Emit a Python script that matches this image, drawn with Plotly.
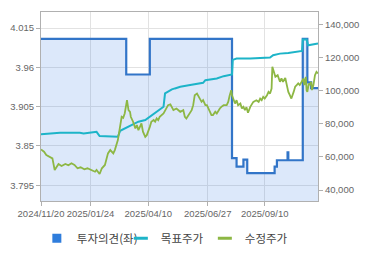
import plotly.graph_objects as go

# ---- data ----
opinion_dates = ["2024-11-20", "2025-03-12", "2025-04-12", "2025-07-29", "2025-08-04", "2025-08-13",
                 "2025-08-18", "2025-09-23", "2025-09-26", "2025-10-10", "2025-10-11", "2025-10-30",
                 "2025-11-05", "2025-11-10", "2025-11-19"]
opinion_vals = [4.0, 3.95, 4.0, 3.833, 3.821, 3.831, 3.812, 3.821, 3.830, 3.841, 3.830, 4.0,
                3.939, 3.931, 3.931]

target_dates = ["2024-11-20", "2024-12-02", "2024-12-15", "2025-01-10", "2025-01-15", "2025-01-30",
                "2025-02-01", "2025-02-05", "2025-02-19", "2025-03-01", "2025-03-04", "2025-03-10",
                "2025-03-19", "2025-03-28", "2025-04-06", "2025-04-12", "2025-04-21", "2025-04-30",
                "2025-05-02", "2025-05-06", "2025-05-11", "2025-05-15", "2025-05-22", "2025-06-04",
                "2025-06-21", "2025-06-24", "2025-07-09", "2025-07-18", "2025-07-29", "2025-07-30",
                "2025-08-04", "2025-08-22", "2025-09-17", "2025-09-21", "2025-09-30", "2025-10-11",
                "2025-10-20", "2025-10-29", "2025-10-30", "2025-11-04", "2025-11-06", "2025-11-15",
                "2025-11-19"]
target_vals = [73600, 74000, 74500, 74500, 74100, 75000, 75100, 72530, 72100, 72100, 75700, 77200,
               79200, 81200, 82200, 84200, 87200, 90200, 98250, 99500, 100700, 101300, 102270, 103300,
               104700, 106300, 107300, 108700, 109700, 118500, 119300, 119300, 119900, 121300, 122300,
               122700, 123300, 123900, 130800, 130800, 127350, 128000, 128400]

price_dates = [
    "2024-11-20", "2024-11-24", "2024-11-27", "2024-12-02", "2024-12-05", "2024-12-08", "2024-12-11",
    "2024-12-13", "2024-12-17", "2024-12-22", "2024-12-26", "2024-12-30",
    "2025-01-03", "2025-01-07", "2025-01-11", "2025-01-16", "2025-01-20", "2025-01-25", "2025-01-30",
    "2025-02-01", "2025-02-05", "2025-02-08", "2025-02-12", "2025-02-16", "2025-02-19", "2025-02-23",
    "2025-02-25",
    "2025-03-01", "2025-03-04", "2025-03-06", "2025-03-08", "2025-03-10", "2025-03-13", "2025-03-15",
    "2025-03-17", "2025-03-18", "2025-03-21", "2025-03-24", "2025-03-26", "2025-03-28", "2025-03-30",
    "2025-04-01", "2025-04-03", "2025-04-06", "2025-04-08", "2025-04-10", "2025-04-12", "2025-04-14",
    "2025-04-17", "2025-04-19", "2025-04-21", "2025-04-23", "2025-04-25", "2025-04-30",
    "2025-05-02", "2025-05-04", "2025-05-06", "2025-05-09", "2025-05-11", "2025-05-13", "2025-05-17",
    "2025-05-22", "2025-05-26", "2025-05-28", "2025-05-30",
    "2025-06-02", "2025-06-04", "2025-06-06", "2025-06-08", "2025-06-10", "2025-06-13", "2025-06-15",
    "2025-06-17", "2025-06-19", "2025-06-21", "2025-06-24", "2025-06-26", "2025-06-28", "2025-06-30",
    "2025-07-02", "2025-07-04", "2025-07-07", "2025-07-09", "2025-07-11", "2025-07-13", "2025-07-15",
    "2025-07-18", "2025-07-22", "2025-07-24", "2025-07-26", "2025-07-28", "2025-07-29", "2025-07-31",
    "2025-08-02", "2025-08-04", "2025-08-06", "2025-08-09", "2025-08-11", "2025-08-13", "2025-08-15",
    "2025-08-17", "2025-08-19", "2025-08-22", "2025-08-24", "2025-08-26", "2025-08-30",
    "2025-09-02", "2025-09-04", "2025-09-06", "2025-09-08", "2025-09-10", "2025-09-13", "2025-09-15",
    "2025-09-17", "2025-09-19", "2025-09-20", "2025-09-22", "2025-09-24", "2025-09-27", "2025-09-30",
    "2025-10-02", "2025-10-04", "2025-10-07", "2025-10-09", "2025-10-11", "2025-10-13", "2025-10-15",
    "2025-10-18", "2025-10-20", "2025-10-22", "2025-10-24", "2025-10-26", "2025-10-29", "2025-10-31",
    "2025-11-01", "2025-11-03", "2025-11-04", "2025-11-05", "2025-11-07", "2025-11-08", "2025-11-10",
    "2025-11-11", "2025-11-13", "2025-11-15", "2025-11-17", "2025-11-19"]
price_vals = [
    64500, 63100, 61100, 60100, 59100, 52050, 54000, 55700, 54500, 55700, 54900, 56100,
    55100, 53100, 53700, 52500, 53100, 52000, 51000, 52050, 49640, 53100, 55100, 62100, 64100, 62100,
    64100,
    70100, 78100, 84200, 83600, 86200, 94200, 88200, 87200, 84200, 81200, 77200, 79200, 76100, 78100,
    80200, 75200, 72100, 73100, 75200, 78100, 81200, 82200, 81200, 83200, 82200, 84200, 86200,
    88200, 90200, 91200, 91700, 90200, 88200, 89200, 87200, 88200, 84200, 83200,
    85200, 87200, 88200, 91200, 97200, 98250, 96200, 95200, 93200, 94200, 91200, 91200, 89200, 88200,
    85200, 85200, 87200, 86200, 88200, 89200, 90200, 91200, 91200, 93200, 97200, 100200, 97200, 94000,
    92200, 94200, 91200, 92200, 89200, 90200, 88200, 90000, 86600, 90200, 92200, 93200, 94200,
    93200, 95200, 94200, 96200, 95200, 97200, 99200, 98200, 101200, 114300, 111300, 108300, 109300,
    105300,
    107300, 105300, 107600, 103300, 99200, 97200, 95200, 99200, 102300, 103300, 104300, 103300, 105300,
    107300,
    103300, 108300, 100200, 99200, 104300, 103300, 105300, 100300, 103300, 109300, 111300, 110300]

x_tick_vals = ["2024-11-20", "2025-01-24", "2025-04-10", "2025-06-27", "2025-09-10"]
x_tick_text = ["2024/11/20", "2025/01/24", "2025/04/10", "2025/06/27", "2025/09/10"]
left_ticks = [3.795, 3.85, 3.905, 3.96, 4.015]
left_tick_text = ["3.795", "3.85", "3.905", "3.96", "4.015"]
right_ticks = [40000, 60000, 80000, 100000, 120000, 140000]
legend_names = ["투자의견(좌)", "목표주가", "수정주가"]

BLUE = "#3275c8"
TEAL = "#1db4c8"
GREEN = "#8db744"

fig = go.Figure()
fig.add_trace(go.Scatter(x=opinion_dates, y=opinion_vals, mode="lines", line_shape="hv",
                         line=dict(color=BLUE, width=2.2), fill="tozeroy",
                         fillcolor="rgba(60,130,230,0.18)", showlegend=False, yaxis="y"))
fig.add_trace(go.Scatter(x=target_dates, y=target_vals, mode="lines",
                         line=dict(color=TEAL, width=2), showlegend=False, yaxis="y2"))
fig.add_trace(go.Scatter(x=price_dates, y=price_vals, mode="lines",
                         line=dict(color=GREEN, width=1.8), showlegend=False, yaxis="y2"))

# legend entries
fig.add_trace(go.Scatter(x=[None], y=[None], mode="markers", name=legend_names[0],
                         marker=dict(symbol="square", size=9, color="#2f7ddc")))
fig.add_trace(go.Scatter(x=[None], y=[None], mode="markers", name=legend_names[1],
                         marker=dict(symbol="line-ew", size=10, line=dict(color=TEAL, width=3))))
fig.add_trace(go.Scatter(x=[None], y=[None], mode="markers", name=legend_names[2],
                         marker=dict(symbol="line-ew", size=10, line=dict(color=GREEN, width=3))))

axis_line = "#b0b0b0"
grid = "#e2e2e2"
tickfont = dict(family="Liberation Sans, Arial, sans-serif", size=9.5, color="#666666")

fig.update_layout(
    width=370, height=255,
    margin=dict(l=41, r=52, t=12, b=54, autoexpand=False),
    paper_bgcolor="white", plot_bgcolor="white",
    font=dict(family="Liberation Sans, Noto Sans CJK KR, sans-serif"),
    xaxis=dict(type="date", range=["2024-11-20", "2025-11-19"], tickvals=x_tick_vals,
               ticktext=x_tick_text, tickangle=0, ticks="outside", ticklen=4, tickcolor=axis_line,
               showline=True, linecolor=axis_line, mirror=True, showgrid=True, gridcolor=grid,
               tickfont=tickfont, zeroline=False, automargin=False),
    yaxis=dict(range=[3.773, 4.0375], tickvals=left_ticks, ticktext=left_tick_text,
               ticks="outside", ticklen=4, tickcolor=axis_line, showline=True, linecolor=axis_line,
               mirror=True, showgrid=True, gridcolor=grid, tickfont=tickfont, zeroline=False,
               automargin=False),
    yaxis2=dict(range=[33360, 147420], tickvals=right_ticks, tickformat=",", overlaying="y",
                side="right", ticks="outside", ticklen=4, tickcolor=axis_line, showline=True,
                linecolor=axis_line, showgrid=False, tickfont=tickfont, zeroline=False,
                automargin=False),
    legend=dict(orientation="h", x=-0.015, xanchor="left", y=-0.12, yanchor="top",
                font=dict(family="Noto Sans CJK KR, sans-serif", size=11.5, color="#444444"),
                entrywidth=39, bgcolor="rgba(0,0,0,0)"),
    showlegend=True,
)

fig.write_html("out.html")
